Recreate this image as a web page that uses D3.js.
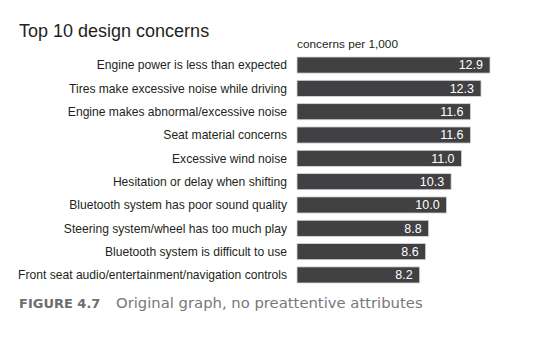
<!DOCTYPE html>
<html>
<head>
<meta charset="utf-8">
<script src="https://cdn.jsdelivr.net/npm/d3@7"></script>
<style>
  body { margin: 0; background: #fff; }
  text { font-family: "Liberation Sans", Arial, sans-serif; }
</style>
</head>
<body>
<div id="viz"></div>
<script>
// chart data
var concerns = [
  "Engine power is less than expected",
  "Tires make excessive noise while driving",
  "Engine makes abnormal/excessive noise",
  "Seat material concerns",
  "Excessive wind noise",
  "Hesitation or delay when shifting",
  "Bluetooth system has poor sound quality",
  "Steering system/wheel has too much play",
  "Bluetooth system is difficult to use",
  "Front seat audio/entertainment/navigation controls"
];
var perThousand = [12.9, 12.3, 11.6, 11.6, 11.0, 10.3, 10.0, 8.8, 8.6, 8.2];

var svg = d3.select("#viz")
  .append("svg")
  .attr("width", 535)
  .attr("height", 338);

svg.append("text")
  .attr("x", 19)
  .attr("y", 37)
  .attr("font-size", 18)
  .attr("fill", "#231f20")
  .text("Top 10 design concerns");

var x = d3.scaleLinear().domain([0, 12.9]).range([297, 490]);
var y = d3.scaleBand().domain(concerns).range([53.5, 286.5]).paddingInner(0.31).paddingOuter(0.15);

svg.append("text")
  .attr("x", 297)
  .attr("y", 48)
  .attr("font-size", 11.8)
  .attr("fill", "#231f20")
  .text("concerns per 1,000");

var rows = svg.selectAll("g.row")
  .data(concerns)
  .enter().append("g")
  .attr("class", "row");

rows.append("rect")
  .attr("x", x(0))
  .attr("y", function(d) { return y(d); })
  .attr("width", function(d, i) { return x(perThousand[i]) - x(0); })
  .attr("height", y.bandwidth())
  .attr("fill", "#414042")
  .attr("stroke", "#d8d8d8")
  .attr("stroke-width", 0.8);

rows.append("text")
  .attr("x", 287)
  .attr("y", function(d) { return y(d) + y.bandwidth() / 2; })
  .attr("dy", "0.35em")
  .attr("text-anchor", "end")
  .attr("font-size", 12.1)
  .attr("fill", "#231f20")
  .text(function(d) { return d; });

rows.append("text")
  .attr("x", function(d, i) { return x(perThousand[i]) - 7; })
  .attr("y", function(d) { return y(d) + y.bandwidth() / 2; })
  .attr("dy", "0.35em")
  .attr("text-anchor", "end")
  .attr("font-size", 12.5)
  .attr("fill", "#fff")
  .text(function(d, i) { return perThousand[i].toFixed(1); });

// caption
var cap = svg.append("text")
  .attr("x", 19)
  .attr("y", 308)
  .style("font-family", "'DejaVu Sans', sans-serif")
  .attr("font-size", 14.8)
  .attr("fill", "#6d6e71");
cap.append("tspan").attr("font-weight", "bold").attr("font-size", 13).text("FIGURE 4.7");
cap.append("tspan").attr("x", 116).attr("fill", "#77787b").text("Original graph, no preattentive attributes");
</script>
</body>
</html>
